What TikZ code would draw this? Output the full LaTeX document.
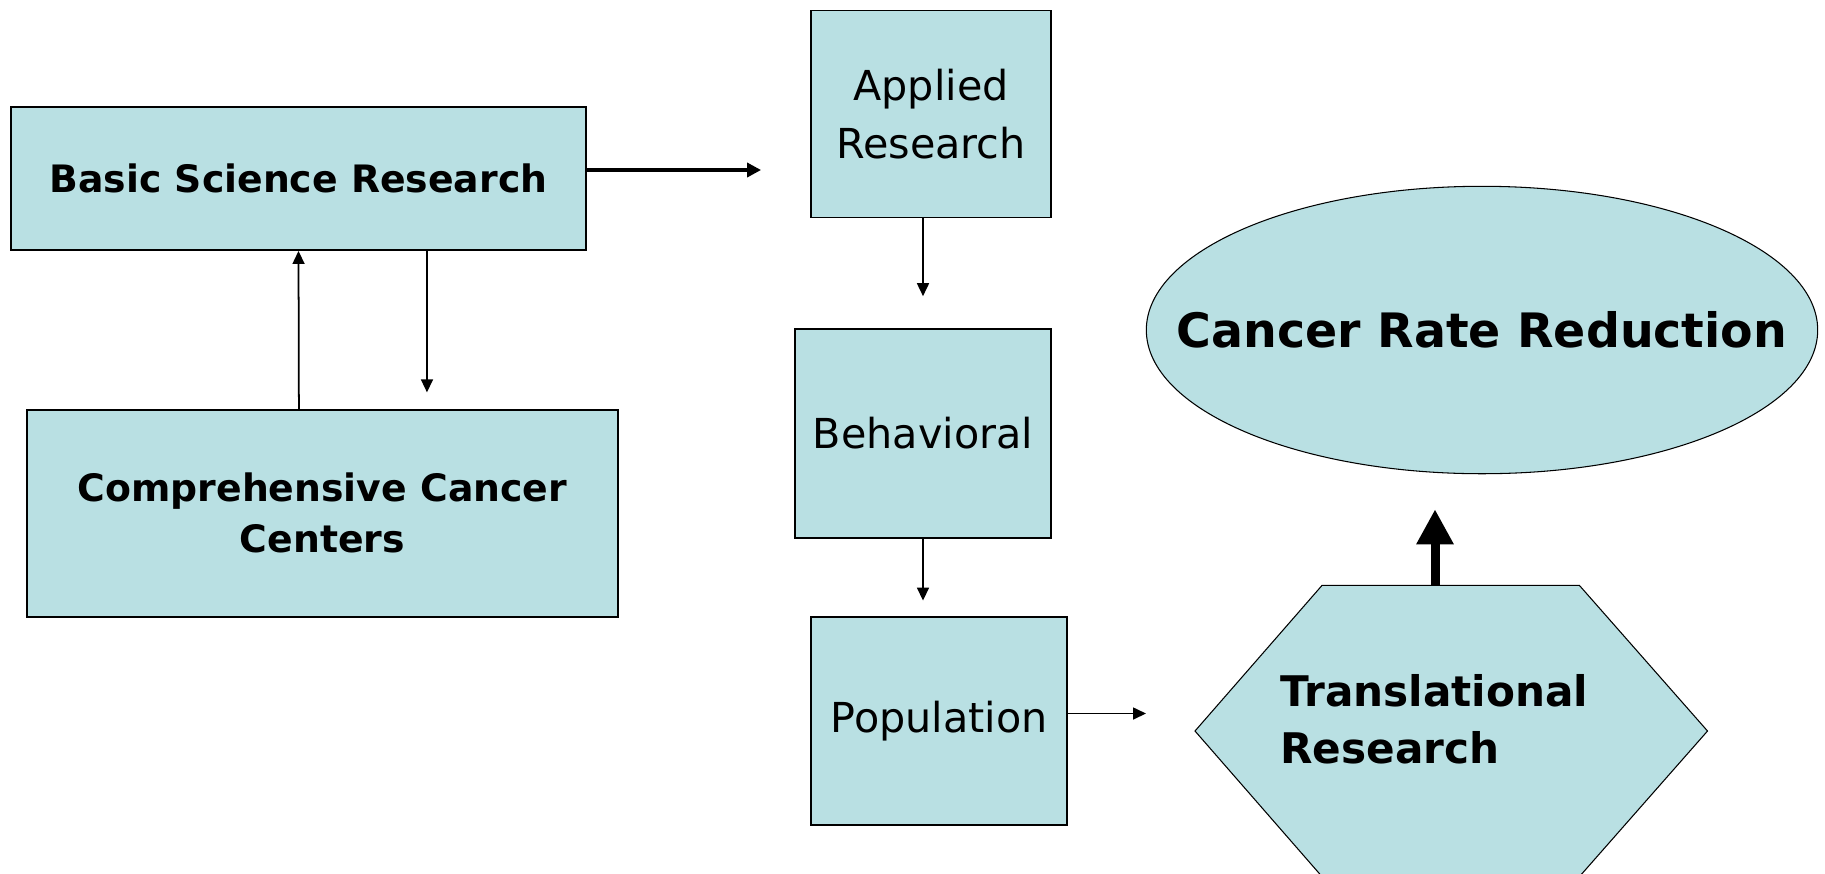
\documentclass[tikz,border=0pt]{standalone}
\usepackage{fontspec}
\setmainfont{DejaVu Sans}
\usepackage{xcolor}
\usetikzlibrary{arrows.meta,shapes.geometric}
\definecolor{boxfill}{RGB}{185,224,227}

\begin{document}
\begin{tikzpicture}[x=0.02cm,y=-0.02cm]
	\tikzstyle{every node}+=[inner sep=0pt]
	\tikzstyle{box}=[draw=black, line width=1.1pt, fill=boxfill, align=center]
	\tikzstyle{boldtext}=[font=\fontsize{21.5}{29}\selectfont\bfseries]
	\tikzstyle{plaintext}=[font=\fontsize{23.5}{33}\selectfont]
	\tikzstyle{link}=[black, line width=1pt, -{Triangle[length=7.4pt,width=6.8pt]}]
	\tikzstyle{biglink}=[black, line width=2.6pt, -{Triangle[length=8pt,width=8pt]}]
	\useasboundingbox (0,0) rectangle (1825,873);
	% left column
	\node [box, boldtext, minimum width=11.52cm, minimum height=2.86cm] (basic) at (298.5,178.5) {Basic Science Research};
	\node [box, boldtext, minimum width=11.82cm, minimum height=4.14cm] (centers) at (322.4,513.3) {Comprehensive Cancer\\Centers};
	% middle column
	\node [box, plaintext, minimum width=4.8cm, minimum height=4.14cm] (applied) at (931,114) {Applied\\Research};
	\node [box, plaintext, minimum width=5.12cm, minimum height=4.17cm] (behavioral) at (923,433.4) {Behavioral};
	\node [box, plaintext, minimum width=5.12cm, minimum height=4.16cm] (population) at (939,721) {Population};
	% right side
	\node [draw=black, line width=0.6pt, fill=boxfill, ellipse, minimum width=13.43cm, minimum height=5.75cm,
		label={[font=\fontsize{27}{32}\selectfont\bfseries]center:Cancer Rate Reduction}] (reduction) at (1482,330) {};
	\coordinate (hexW) at (1195,731);
	\coordinate (hexE) at (1707.5,731);
	\draw [black, line width=0.6pt, fill=boxfill] (hexW) -- (1322,585.4) -- (1579.4,585.4) -- (hexE) -- (1579.4,876.6) -- (1322,876.6) -- cycle;
	\node [anchor=west, align=left, font=\fontsize{24}{32.5}\selectfont\bfseries] (translational) at (1280,719) {Translational\\Research};
	\coordinate (hexN) at (1435,585.4);
	% connectors
	\draw [biglink, shorten >=0.98cm] (basic.east |- 0,170) -- (applied.west |- 0,170);
	\draw [link] ([xshift=-0.47cm]centers.north) -- (basic.south);
	\draw [link, shorten >=0.33cm] ([xshift=2.57cm]basic.south) -- ([xshift=2.57cm]basic.south |- centers.north);
	\draw [link, shorten >=0.64cm] (behavioral.north |- applied.south) -- (behavioral.north);
	\draw [link, shorten >=0.31cm] (behavioral.south) -- (behavioral.south |- population.north);
	\draw [link, shorten >=0.98cm] (population.east |- 0,713.5) -- (hexW |- 0,713.5);
	\draw [black, line width=5.1pt, -{Triangle[length=20pt,width=20pt]}, shorten >=0.7cm] (hexN) -- (hexN |- reduction.south);
\end{tikzpicture}
\end{document}
